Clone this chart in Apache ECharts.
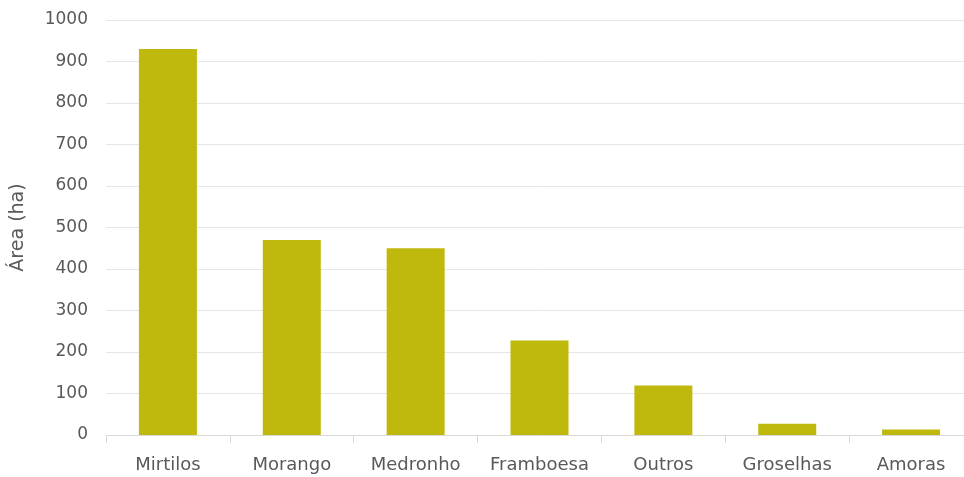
<!DOCTYPE html>
<html>
<head>
<meta charset="utf-8">
<script src="https://cdn.jsdelivr.net/npm/echarts@6/dist/echarts.min.js"></script>
<style>
  html, body { margin: 0; padding: 0; background: #fff; overflow: hidden; }
  #chart { width: 973px; height: 477px; }
</style>
</head>
<body>
<div id="chart"></div>
<script>
// Área de pequenos frutos por espécie (ha)
const categories = ['Mirtilos', 'Morango', 'Medronho', 'Framboesa', 'Outros', 'Groselhas', 'Amoras'];
const areaHa = [930, 470, 450, 228, 119, 27, 13];
const yTicks = { min: 0, max: 1000, interval: 100 };

const chart = echarts.init(document.getElementById('chart'));
const textFont = 'DejaVu Sans';
const textColor = '#595959';
chart.setOption({
  animation: false,
  grid: { left: 106, right: 0, top: 20, bottom: 42, containLabel: false, outerBoundsMode: 'none' },
  xAxis: {
    type: 'category',
    data: categories,
    axisLine: { lineStyle: { color: '#d9d9d9', width: 1 } },
    axisTick: { show: true, interval: 0, length: 8, lineStyle: { color: '#d9d9d9' } },
    axisLabel: { interval: 0, hideOverlap: false, color: textColor, fontFamily: textFont, fontSize: 18, margin: 21 }
  },
  yAxis: {
    type: 'value',
    min: yTicks.min, max: yTicks.max, interval: yTicks.interval,
    name: 'Área (ha)',
    nameLocation: 'middle',
    nameRotate: 90,
    nameGap: 78,
    nameTextStyle: { color: textColor, fontFamily: textFont, fontSize: 19 },
    axisLine: { show: false },
    axisTick: { show: false },
    axisLabel: {
      color: textColor, fontFamily: textFont, fontSize: 17, margin: 18,
      formatter: v => String(v)
    },
    splitLine: { lineStyle: { color: '#e6e6e6', width: 1 } }
  },
  series: [{
    type: 'bar',
    data: areaHa,
    barWidth: 58,
    itemStyle: { color: '#bfb90d' }
  }]
});
</script>
</body>
</html>
